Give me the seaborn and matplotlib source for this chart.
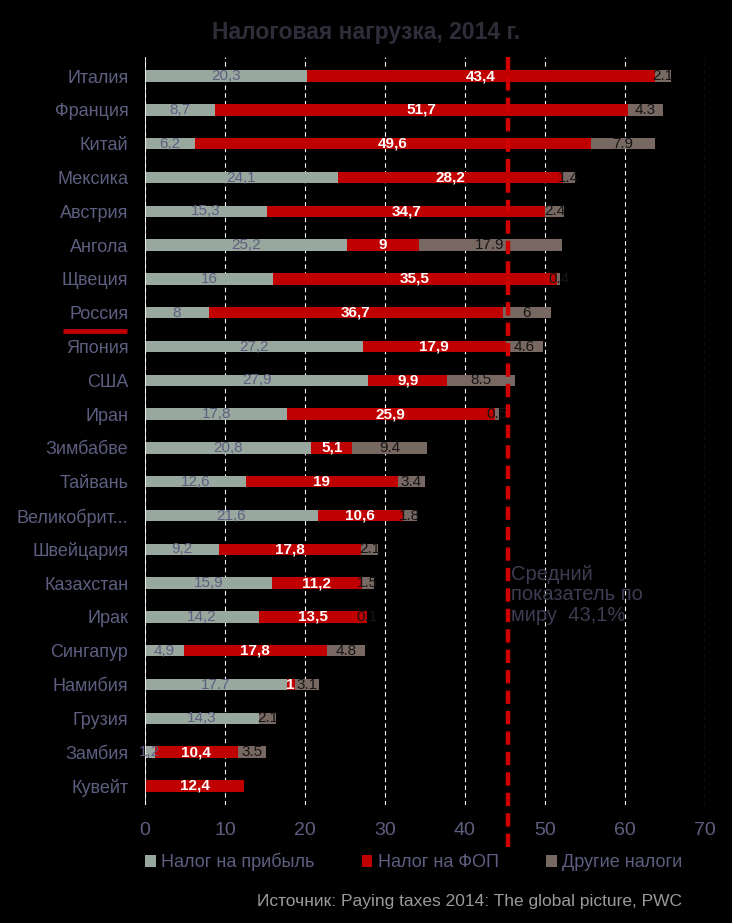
import numpy as np
import pandas as pd
import matplotlib
matplotlib.use("Agg")
import matplotlib.pyplot as plt
from matplotlib.patches import Patch
import seaborn as sns

# данные
countries = ["Италия", "Франция", "Китай", "Мексика", "Австрия", "Ангола", "Щвеция",
             "Россия", "Япония", "США", "Иран", "Зимбабве", "Тайвань", "Великобрит...",
             "Швейцария", "Казахстан", "Ирак", "Сингапур", "Намибия", "Грузия",
             "Замбия", "Кувейт"]
profit_tax = [20.3, 8.7, 6.2, 24.1, 15.3, 25.2, 16, 8, 27.2, 27.9, 17.8, 20.8, 12.6,
              21.6, 9.2, 15.9, 14.2, 4.9, 17.7, 14.3, 1.2, 0]
labour_tax = [43.4, 51.7, 49.6, 28.2, 34.7, 9, 35.5, 36.7, 17.9, 9.9, 25.9, 5.1, 19,
              10.6, 17.8, 11.2, 13.5, 17.8, 1, 0, 10.4, 12.4]
other_tax = [2.1, 4.3, 7.9, 1.4, 2.4, 17.9, 0.4, 6, 4.6, 8.5, 0.5, 9.4, 3.4, 1.8,
             2.1, 1.5, 0.1, 4.8, 3.1, 2.1, 3.5, 0]
series_names = ["Налог на прибыль", "Налог на ФОП", "Другие налоги"]
x_ticks = [0, 10, 20, 30, 40, 50, 60, 70]
avg_line_pos = 45.4
avg_text = "Средний\nпоказатель по\nмиру  43,1%"
highlight = "Россия"

GRAY = "#98a89e"
RED = "#c00000"
BROWN = "#786862"
SLATE = "#5e5e80"

df = pd.DataFrame({"country": countries, "profit": profit_tax,
                   "labour": labour_tax, "other": other_tax})
df["lab_end"] = df["profit"] + df["labour"]
df["total"] = df["lab_end"] + df["other"]

sns.set_style("dark")
plt.rcParams["font.family"] = ["Liberation Sans", "DejaVu Sans"]

fig, ax = plt.subplots(figsize=(7.32, 9.23), dpi=100)
fig.patch.set_facecolor("black")
ax.set_facecolor("black")
fig.subplots_adjust(left=0.198, right=0.963, top=0.938, bottom=0.128)

# сетка под столбиками
ax.set_axisbelow(True)
ax.grid(axis="x", color="white", linestyle=(0, (4, 3)), linewidth=0.8)
ax.grid(axis="y", visible=False)

# накопленные столбики: сначала полная сумма, потом поверх
bw = 0.34
for col, c in (("total", BROWN), ("lab_end", RED), ("profit", GRAY)):
    sns.barplot(data=df, y="country", x=col, color=c, orient="h", width=bw,
                saturation=1, errorbar=None, linewidth=0, ax=ax)

ax.axvline(0, color="white", linewidth=1.2, zorder=3)


def fmt(v, sep=","):
    return f"{v:g}".replace(".", sep)


for i, r in df.iterrows():
    if r["profit"] > 0:
        ax.text(r["profit"] / 2, i, fmt(r["profit"]), ha="center", va="center",
                color=SLATE, fontsize=11, zorder=5)
    if r["labour"] > 0:
        ax.text(r["profit"] + r["labour"] / 2, i, fmt(r["labour"]), ha="center",
                va="center", color="white", fontsize=11, fontweight="bold", zorder=5)
    if r["other"] > 0:
        ax.text(r["lab_end"] + r["other"] / 2, i, fmt(r["other"], "."), ha="center",
                va="center", color="#151515", fontsize=11, zorder=5)

# среднее по миру
ax.axvline(avg_line_pos, ymin=-0.057, ymax=1, color="#d00000", linewidth=3.2,
           linestyle=(0, (3, 1.6)), clip_on=False, zorder=6)
ax.text(avg_line_pos + 0.3, 14.45, avg_text, ha="left", va="top", color="#3c3c52",
        fontsize=14.5, linespacing=1.1)

# подчеркивание России
ri = countries.index(highlight)
ax.plot([-0.146, -0.032], [ri + 0.54, ri + 0.54], color=RED, linewidth=3.5,
        transform=ax.get_yaxis_transform(), clip_on=False, solid_capstyle="butt")

ax.set_xlim(0, 70)
ax.set_ylim(len(countries) - 0.44, -0.56)
ax.set_xticks(x_ticks)
ax.set_xlabel("")
ax.set_ylabel("")
ax.tick_params(axis="x", colors=SLATE, labelsize=14, length=0, pad=12)
ax.tick_params(axis="y", colors=SLATE, labelsize=13, length=0, pad=12)
for s in ax.spines.values():
    s.set_visible(False)

handles = [Patch(facecolor=c, edgecolor="none") for c in (GRAY, RED, BROWN)]
fig.legend(handles, series_names, loc="center", bbox_to_anchor=(0.565, 0.066),
           ncol=3, frameon=False, fontsize=13, labelcolor=SLATE,
           handlelength=0.6, handleheight=0.6, handletextpad=0.3, columnspacing=2.6)

fig.text(0.5, 0.965, "Налоговая нагрузка, 2014 г.", ha="center", va="center",
         color="#2e2e3a", fontsize=16.5, fontweight="bold")
fig.text(0.932, 0.023, "Источник: Paying taxes 2014: The global picture, PWC",
         ha="right", va="center", color="#9a9a9a", fontsize=12.5)

fig.savefig("out.png", dpi=100, facecolor="black")
